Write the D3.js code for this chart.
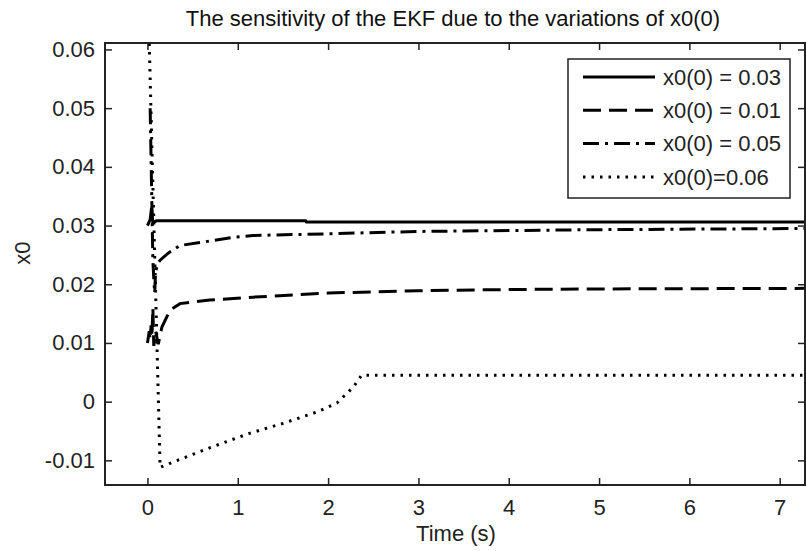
<!DOCTYPE html>
<html>
<head>
<meta charset="utf-8">
<script src="https://cdn.jsdelivr.net/npm/d3@7"></script>
<style>
  body { margin: 0; background: #fff; }
  svg { font-family: "Liberation Sans", Arial, sans-serif; }
</style>
</head>
<body>
<div id="chart"></div>
<script>
// data: [time (s), x0]
const series003 = [[0.0, 0.0300], [0.03, 0.0310], [0.045, 0.0330], [0.06, 0.0305], [0.1, 0.0308], [1.75, 0.0308], [1.76, 0.0306], [7.3, 0.0306]];
const series001 = [[0.0, 0.0100], [0.02, 0.0120], [0.03, 0.0105], [0.04, 0.0130], [0.05, 0.0110], [0.06, 0.0160], [0.07, 0.0095],
  [0.09, 0.0120], [0.12, 0.0098], [0.16, 0.0127], [0.25, 0.0156], [0.36, 0.0167], [0.69, 0.0173], [1.17, 0.0178],
  [2, 0.0185], [3, 0.0189], [4, 0.0191], [5, 0.0192], [7.3, 0.0193]];
const series005 = [[0.03, 0.0500], [0.06, 0.0240], [0.07, 0.0210], [0.08, 0.0185], [0.09, 0.0220], [0.11, 0.0235], [0.14, 0.0241],
  [0.23, 0.0253], [0.36, 0.0266], [0.58, 0.0271], [0.95, 0.0280], [1.17, 0.0283], [2, 0.0286], [3, 0.0290], [5, 0.0293], [7.3, 0.0295]];
const series006 = [[0.02, 0.0610], [0.14, -0.0112], [0.25, -0.0105], [0.7, -0.0078], [1.13, -0.0054], [1.5, -0.0037],
  [1.87, -0.0018], [2.1, -0.0002], [2.28, 0.0025], [2.37, 0.0045], [7.3, 0.0045]];

const legendLabels = ["x0(0) = 0.03", "x0(0) = 0.01", "x0(0) = 0.05", "x0(0)=0.06"];
const xTicks = [0, 1, 2, 3, 4, 5, 6, 7];
const yTicks = [-0.01, 0, 0.01, 0.02, 0.03, 0.04, 0.05, 0.06];

const width = 806, height = 551;
const margin = { top: 43, right: 1, bottom: 66, left: 105 };
const iw = width - margin.left - margin.right;
const ih = height - margin.top - margin.bottom;

const x = d3.scaleLinear().domain([-0.47, 7.28]).range([0, iw]);
const y = d3.scaleLinear().domain([-0.0142, 0.0611]).range([ih, 0]);

const svg = d3.select("#chart").append("svg")
    .attr("width", width)
    .attr("height", height);

const g = svg.append("g").attr("transform", `translate(${margin.left},${margin.top})`);

g.append("clipPath").attr("id", "clip")
  .append("rect").attr("width", iw).attr("height", ih);

// lines
const line = d3.line().x(d => x(d[0])).y(d => y(d[1]));
const styles = [
  { data: series003, dash: null },
  { data: series001, dash: "18,8" },
  { data: series005, dash: "16,6,3,6" },
  { data: series006, dash: "2.5,6" }
];

g.append("g").attr("clip-path", "url(#clip)")
  .selectAll("path")
  .data(styles)
  .join("path")
    .attr("fill", "none")
    .attr("stroke", "#000")
    .attr("stroke-width", 3)
    .attr("stroke-dasharray", d => d.dash)
    .attr("d", d => line(d.data));

// axes with inward ticks on all four sides
const fmt = d => d === 0 ? "0" : d.toFixed(2);   // plain hyphen like the original
const tickStyle = sel => {
  sel.select(".domain").remove();
  sel.selectAll("line").attr("stroke", "#222").attr("stroke-width", 1.5);
  sel.selectAll("text").attr("fill", "#222").style("font-size", "22px");
};

g.append("g").attr("transform", `translate(0,${ih})`)
  .call(d3.axisBottom(x).tickValues(xTicks).tickSize(-7).tickPadding(14).tickFormat(d3.format("d")))
  .call(tickStyle);
g.append("g")
  .call(d3.axisTop(x).tickValues(xTicks).tickSize(-7).tickFormat(""))
  .call(tickStyle);
g.append("g")
  .call(d3.axisLeft(y).tickValues(yTicks).tickSize(-7).tickPadding(10).tickFormat(fmt))
  .call(tickStyle);
g.append("g").attr("transform", `translate(${iw},0)`)
  .call(d3.axisRight(y).tickValues(yTicks).tickSize(-7).tickFormat(""))
  .call(tickStyle);

g.append("rect")
  .attr("width", iw).attr("height", ih)
  .attr("fill", "none").attr("stroke", "#222").attr("stroke-width", 2);

// labels
svg.append("text")
  .attr("x", margin.left + iw / 2 - 2).attr("y", 26)
  .attr("text-anchor", "middle")
  .attr("fill", "#111")
  .style("font-size", "22px")
  .text("The sensitivity of the EKF due to the variations of x0(0)");

svg.append("text")
  .attr("x", margin.left + iw / 2 + 1).attr("y", 541)
  .attr("text-anchor", "middle")
  .attr("fill", "#222")
  .style("font-size", "22px")
  .text("Time (s)");

svg.append("text")
  .attr("transform", `translate(30,${y(0.0253) + margin.top}) rotate(-90)`)
  .attr("text-anchor", "middle")
  .attr("fill", "#222")
  .style("font-size", "22px")
  .text("x0");

// legend
const legend = svg.append("g").attr("transform", "translate(568,59)");
legend.append("rect")
  .attr("width", 222).attr("height", 139)
  .attr("fill", "#fff").attr("stroke", "#222").attr("stroke-width", 1.5);

const entry = legend.selectAll("g.entry")
  .data(styles)
  .join("g")
    .attr("class", "entry")
    .attr("transform", (d, i) => `translate(0,${18 + i * 33.3})`);

entry.append("line")
  .attr("x1", 15).attr("x2", 87)
  .attr("stroke", "#000").attr("stroke-width", 3)
  .attr("stroke-dasharray", d => d.dash);

entry.append("text")
  .attr("x", 95).attr("dy", "0.35em")
  .attr("fill", "#222")
  .style("font-size", "22px")
  .text((d, i) => legendLabels[i]);
</script>
</body>
</html>
